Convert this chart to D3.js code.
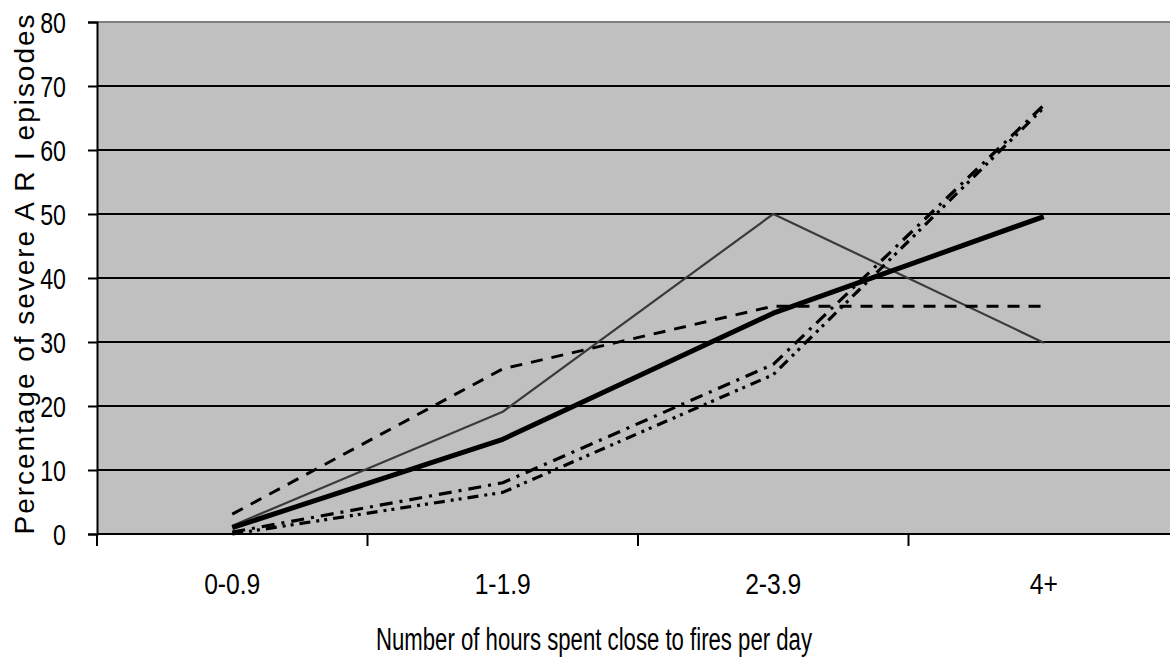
<!DOCTYPE html>
<html>
<head>
<meta charset="utf-8">
<script src="https://cdn.jsdelivr.net/npm/d3@7"></script>
<style>
  body { margin: 0; background: #fff; }
  text { font-family: "Liberation Sans", Arial, sans-serif; fill: #000; }
</style>
</head>
<body>
<script>
var width = 1170,
    height = 658;

// data
var categories = ["0-0.9", "1-1.9", "2-3.9", "4+"];
var yTicks = [0, 10, 20, 30, 40, 50, 60, 70, 80];
var thickSolid = [1.0, 14.8, 34.5, 49.6];
var thinGrey = [1.3, 19.1, 50, 29.9];
var dashed = [3.1, 25.8, 35.6, 35.6];
var dashDot = [0.3, 8.0, 26.5, 67.0];
var dashDotDot = [0.0, 6.5, 24.9, 66.6];

var series = [
    { values: thinGrey, stroke: "#3a3a3a", width: 2.2, dash: null },
    { values: dashed, stroke: "#000", width: 3, dash: "12,9" },
    { values: dashDot, stroke: "#000", width: 3.2, dash: "13,7,3,7" },
    { values: dashDotDot, stroke: "#000", width: 3.2, dash: "11,6,3,5,3,6" },
    { values: thickSolid, stroke: "#000", width: 5, dash: null }
];

var margin = { left: 97, top: 22, right: 0, bottom: 124 };
var plotRight = 97 + 4 * 270.5;

var svg = d3.select("body").append("svg")
    .attr("width", width)
    .attr("height", height);

var x = d3.scaleBand()
    .domain(categories)
    .range([margin.left, plotRight]);

var y = d3.scaleLinear()
    .domain([0, 80])
    .range([height - margin.bottom, margin.top]);

// squeeze text horizontally like the narrow font of the original
function narrow(sel, factor) {
    sel.each(function() {
        var w = this.getComputedTextLength();
        d3.select(this)
            .attr("textLength", w * factor)
            .attr("lengthAdjust", "spacingAndGlyphs");
    });
}

// plot background
svg.append("rect")
    .attr("x", margin.left)
    .attr("y", y(80))
    .attr("width", plotRight - margin.left)
    .attr("height", y(0) - y(80))
    .attr("fill", "#c0c0c0");

// gridlines
svg.append("g").selectAll("line")
    .data(yTicks.filter(function(d) { return d > 0; }))
    .enter().append("line")
    .attr("x1", margin.left)
    .attr("x2", plotRight)
    .attr("y1", function(d) { return y(d); })
    .attr("y2", function(d) { return y(d); })
    .attr("stroke", function(d) { return d === 80 ? "#808080" : "#000"; })
    .attr("stroke-width", 2);

// y axis
var yAxis = svg.append("g")
    .attr("transform", "translate(" + margin.left + ",0)")
    .call(d3.axisLeft(y).tickValues(yTicks).tickSize(9).tickPadding(22));
yAxis.select(".domain").attr("stroke-width", 2);
yAxis.selectAll(".tick line").attr("stroke-width", 2);
yAxis.selectAll("text")
    .style("font-size", "29px")
    .attr("dy", "0.36em")
    .call(narrow, 0.8);

// x axis, ticks on the category boundaries
var boundaries = categories.map(function(c) { return x(c); }).concat([plotRight]);
var xAxis = svg.append("g")
    .attr("transform", "translate(0," + y(0) + ")");
xAxis.append("line")
    .attr("x1", margin.left).attr("x2", plotRight)
    .attr("stroke", "#000").attr("stroke-width", 2);
xAxis.selectAll(".bt")
    .data(boundaries)
    .enter().append("line")
    .attr("class", "bt")
    .attr("x1", function(d) { return d; })
    .attr("x2", function(d) { return d; })
    .attr("y1", 0).attr("y2", 12)
    .attr("stroke", "#000").attr("stroke-width", 2);
xAxis.selectAll(".lbl")
    .data(categories)
    .enter().append("text")
    .attr("class", "lbl")
    .attr("x", function(d) { return x(d) + x.bandwidth() / 2; })
    .attr("y", 60)
    .attr("text-anchor", "middle")
    .style("font-size", "29px")
    .text(function(d) { return d; })
    .call(narrow, 0.85);

// series
var line = d3.line()
    .x(function(d, i) { return x(categories[i]) + x.bandwidth() / 2; })
    .y(function(d) { return y(d); });

svg.append("g").selectAll("path")
    .data(series)
    .enter().append("path")
    .attr("d", function(d) { return line(d.values); })
    .attr("fill", "none")
    .attr("stroke", function(d) { return d.stroke; })
    .attr("stroke-width", function(d) { return d.width; })
    .attr("stroke-dasharray", function(d) { return d.dash; })
    .attr("stroke-linejoin", "round");

// axis titles
svg.append("text")
    .attr("x", 594)
    .attr("y", 650)
    .attr("text-anchor", "middle")
    .attr("textLength", 436)
    .attr("lengthAdjust", "spacingAndGlyphs")
    .style("font-size", "31px")
    .text("Number of hours spent close to fires per day");

svg.append("text")
    .attr("transform", "translate(34,274) rotate(-90)")
    .attr("text-anchor", "middle")
    .attr("textLength", 521)
    .attr("lengthAdjust", "spacing")
    .style("font-size", "28px")
    .style("letter-spacing", "1px")
    .text("Percentage of  severe A R I episodes");
</script>
</body>
</html>
